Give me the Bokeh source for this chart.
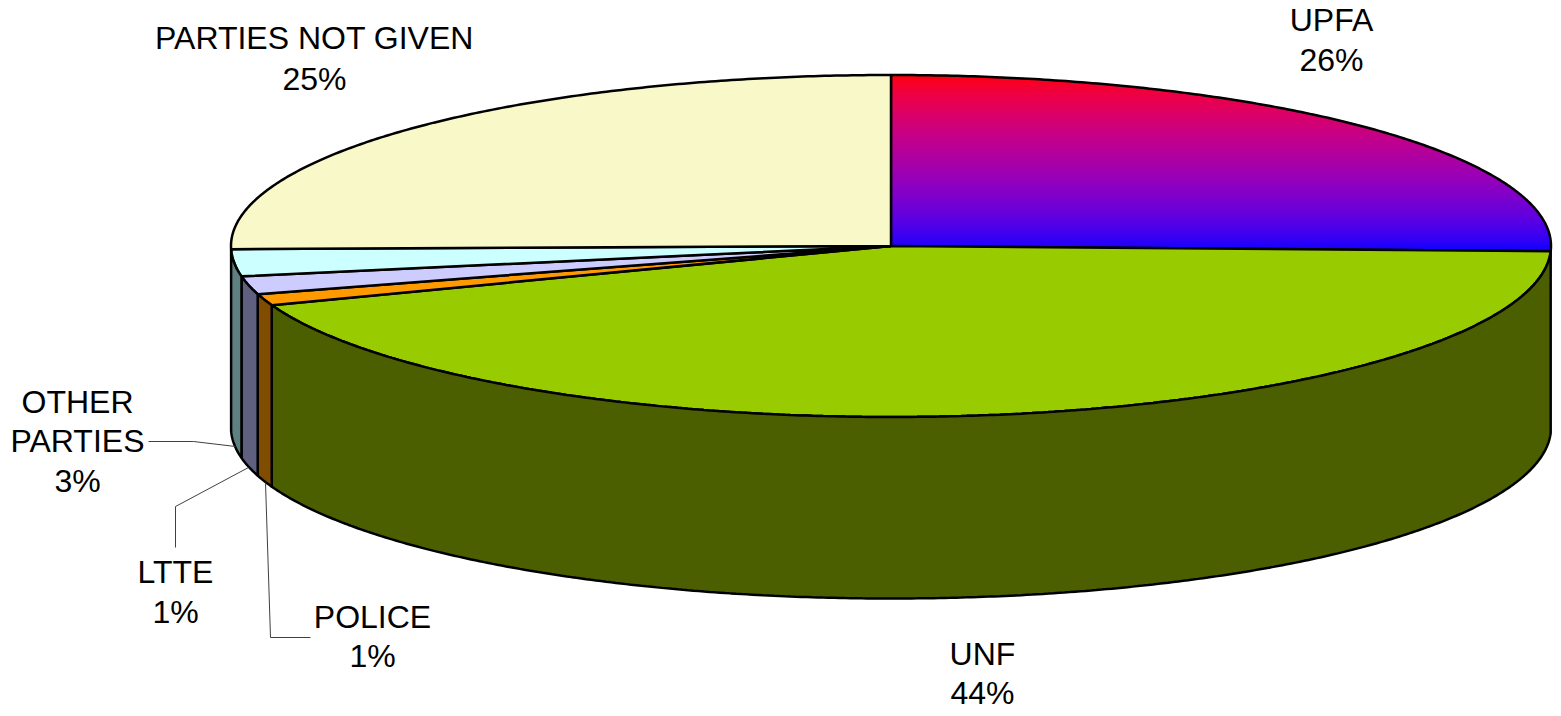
import numpy as np
from bokeh.plotting import figure
from bokeh.models import Range1d
from bokeh.embed import file_html
from bokeh.resources import INLINE

# clockwise from twelve o'clock
categories = ["UPFA", "UNF", "POLICE", "LTTE", "OTHER PARTIES", "PARTIES NOT GIVEN"]
drawn_shares = [25.5, 43.9, 1.08, 1.7, 2.55, 25.3]   # share of the angle as drawn
label_percents = [26, 44, 1, 1, 3, 25]              # printed labels
top_colors = [None, "#99CC00", "#FF9900", "#CCCCFF", "#CCFFFF", "#F8F8C8"]
side_colors = [None, "#4B5E00", "#804C00", "#5F5F80", "#5F8080", None]

CX, CY, RX, RY, DEPTH = 890.5, 245.5, 660.0, 171.0, 181.5
W, H = 1556, 712

p = figure(width=W, height=H, output_backend="svg", toolbar_location=None,
           x_range=Range1d(0, W), y_range=Range1d(H, 0), min_border=0,
           outline_line_color=None, background_fill_color="white")
p.axis.visible = False
p.grid.visible = False

shares = np.array(drawn_shares, dtype=float)
edges = np.concatenate([[0], np.cumsum(shares) / shares.sum() * 2 * np.pi])


def rim(a, b, dy=0.0):
    t = np.linspace(a, b, max(3, int(abs(b - a) * 120)))
    return CX + RX * np.sin(t), CY - RY * np.cos(t) + dy


# gradient of the first slice, row by row
end_y = CY - RY * np.cos(edges[1])
rows = np.arange(CY - RY, end_y + 0.01, 1.0)
fr = (rows - rows[0]) / (rows[-1] - rows[0])
row_cols = ["#%02x%02x%02x" % (int(255 * (1 - f) ** 0.6), 0, int(255 * f ** 0.6)) for f in fr]
right_x = CX + RX * np.sqrt(np.clip(1 - ((rows + 0.5 - CY) / RY) ** 2, 0, 1))
p.quad(left=CX, right=right_x, top=rows - 0.2, bottom=rows + 1.2,
       fill_color=row_cols, line_color=None)

# top faces
for i, cat in enumerate(categories):
    x, y = rim(edges[i], edges[i + 1])
    xs = np.concatenate([[CX], x, [CX]])
    ys = np.concatenate([[CY], y, [CY]])
    if top_colors[i] is None:
        p.line(xs, ys, line_color="black", line_width=2.5)
    else:
        p.patch(xs, ys, fill_color=top_colors[i], line_color="black", line_width=2.5)

# side walls
for i, cat in enumerate(categories):
    if side_colors[i] is None:
        continue
    x, y = rim(edges[i], edges[i + 1])
    xb, yb = rim(edges[i], edges[i + 1], DEPTH)
    p.patch(np.concatenate([x, xb[::-1]]), np.concatenate([y, yb[::-1]]),
            fill_color=side_colors[i], line_color="black", line_width=2.5)

# labels
label_pos = {
    "UPFA": (1331, [19, 59]),
    "UNF": (982, [653, 692]),
    "POLICE": (372, [616, 655]),
    "LTTE": (175, [571, 611]),
    "OTHER PARTIES": (77, [401, 440, 480]),
    "PARTIES NOT GIVEN": (314, [37, 78]),
}
tx, ty, tt = [], [], []
for cat, pct in zip(categories, label_percents):
    px, ys = label_pos[cat]
    lines = (["OTHER", "PARTIES"] if cat == "OTHER PARTIES" else [cat]) + [f"{pct}%"]
    for s, yy in zip(lines, ys):
        tx.append(px); ty.append(yy); tt.append(s)
p.text(tx, ty, text=tt, text_font={"value": "Liberation Sans"}, text_font_size="32px",
       text_align="center", text_baseline="middle", text_color="black")

# leader lines
for lx, ly in [([148, 193, 235], [441, 441, 446]),
               ([175, 175, 248], [547, 506, 467]),
               ([310, 270, 265], [637, 637, 482])]:
    p.line(lx, ly, line_color="#404040", line_width=1)

open("out.html", "w").write(file_html(p, INLINE))
